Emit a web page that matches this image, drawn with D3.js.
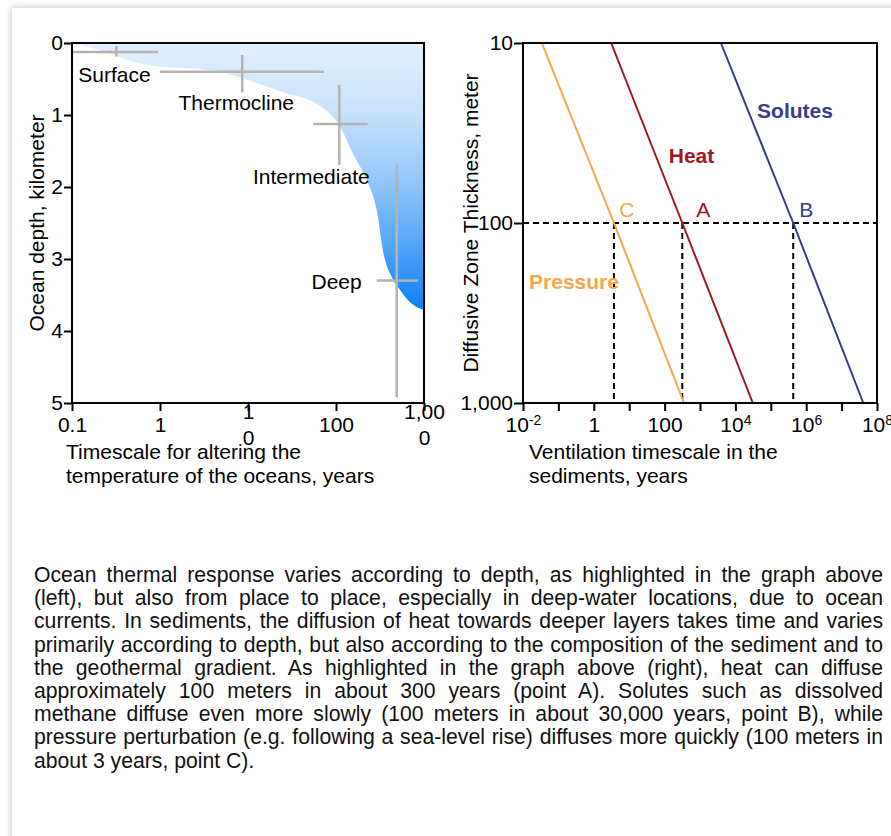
<!DOCTYPE html>
<html><head><meta charset="utf-8">
<script src="https://cdn.jsdelivr.net/npm/d3@7"></script>
<style>
html,body{margin:0;padding:0;background:#fff;width:891px;height:836px;overflow:hidden;font-family:"Liberation Sans",Arial,sans-serif;}
#card{position:absolute;left:12px;top:8px;width:940px;height:900px;background:#fff;box-shadow:0 0 7px rgba(0,0,0,0.28);}
#chart{position:absolute;left:0;top:0;}
#text{position:absolute;left:34px;top:563px;width:849px;font-size:21.2px;line-height:23.2px;text-align:justify;color:#111;}
</style></head><body>
<div id="card"></div>
<svg id="chart" width="891" height="540"></svg>
<div id="text">Ocean thermal response varies according to depth, as highlighted in the graph above (left), but also from place to place, especially in deep-water locations, due to ocean currents. In sediments, the diffusion of heat towards deeper layers takes time and varies primarily according to depth, but also according to the composition of the sediment and to the geothermal gradient. As highlighted in the graph above (right), heat can diffuse approximately 100 meters in about 300 years (point A). Solutes such as dissolved methane diffuse even more slowly (100 meters in about 30,000 years, point B), while pressure perturbation (e.g. following a sea-level rise) diffuses more quickly (100 meters in about 3 years, point C).</div>
<script>
// ---------- Left chart data ----------
const depthTicks = [0, 1, 2, 3, 4, 5];
const depthTickLabels = ["0", "1", "2", "3", "4", "5"];
const timeTicksLeft = [0.1, 1, 10, 100, 1000];
const timeTickLabelsLeft = ["0.1", "1", "1\n0", "100", "1,00\n0"];
const profileTime  = [0.1, 0.21, 0.49, 1.0, 2.0, 4.8, 11.4, 27.6, 55, 85, 111, 155, 222, 290, 346, 430, 535, 694, 1000];
const profileDepth = [0.0, 0.10, 0.26, 0.33, 0.35, 0.40, 0.54, 0.70, 0.815, 0.98, 1.16, 1.53, 1.90, 2.32, 2.92, 3.25, 3.43, 3.60, 3.71];
const layerNames   = ["Surface", "Thermocline", "Intermediate", "Deep"];
const layerTime    = [0.32, 8.6, 109, 490];
const layerTimeLo  = [0.1, 1, 55, 290];
const layerTimeHi  = [0.95, 73, 229, 852];
const layerDepth   = [0.125, 0.40, 1.125, 3.30];
const layerDepthLo = [0.04, 0.167, 0.583, 1.69];
const layerDepthHi = [0.19, 0.685, 1.694, 4.92];

// ---------- Right chart data ----------
const thicknessTicks = [10, 100, 1000];
const thicknessTickLabels = ["10", "100", "1,000"];
const ventTicks = [1e-2, 1e-1, 1, 10, 100, 1e3, 1e4, 1e5, 1e6, 1e7, 1e8];
const ventTickLabels = ["10^-2", "", "1", "", "100", "", "10^4", "", "10^6", "", "10^8"];
const seriesNames = ["Pressure", "Heat", "Solutes"];
const thickness = [10, 100, 1000];
const pressureTime = [0.034, 3.7, 353];
const heatTime = [3.1, 316, 31000];
const solutesTime = [3900, 4.3e5, 4.1e7];
const pointLabels = ["C", "A", "B"];

// ---------- Drawing ----------
const FONT = '"Liberation Sans", Arial, sans-serif';
const FS = 21;
const svg = d3.select("#chart").attr("font-family", FONT).attr("font-size", FS);
const defs = svg.append("defs");

function styleAxis(g) {
  g.attr("font-family", FONT).attr("font-size", FS);
  g.select(".domain").remove();
  g.selectAll(".tick line").attr("stroke", "#000").attr("stroke-width", 2);
  g.selectAll(".tick text").attr("fill", "#000");
}

// Left chart
const L = {x0: 72, x1: 424, y0: 43, y1: 403};
const xL = d3.scaleLog().domain([0.1, 1000]).range([L.x0, L.x1]);
const yL = d3.scaleLinear().domain([0, 5]).range([L.y0, L.y1]);

const grad = defs.append("linearGradient").attr("id", "ocean")
  .attr("gradientUnits", "userSpaceOnUse")
  .attr("x1", 0).attr("x2", 0).attr("y1", yL(0)).attr("y2", yL(3.71));
[[0, "#E2F0FD"], [0.25, "#C8E2FC"], [0.5, "#98C9FA"], [0.75, "#55A6F8"], [1, "#0A7FF8"]]
  .forEach(s => grad.append("stop").attr("offset", s[0]).attr("stop-color", s[1]));

const prof = profileTime.map((t, i) => [xL(t), yL(profileDepth[i])]);
const profLine = d3.line().curve(d3.curveMonotoneX);
svg.append("path")
  .attr("d", profLine(prof) + `L${xL(1000)},${yL(0)}Z`)
  .attr("fill", "url(#ocean)");

const crossColor = "#B5B3AC";
const crosses = svg.append("g").attr("stroke", crossColor).attr("stroke-width", 2.5);
layerNames.forEach((n, i) => {
  crosses.append("line")
    .attr("x1", xL(layerTimeLo[i])).attr("x2", xL(layerTimeHi[i]))
    .attr("y1", yL(layerDepth[i])).attr("y2", yL(layerDepth[i]));
  crosses.append("line")
    .attr("x1", xL(layerTime[i])).attr("x2", xL(layerTime[i]))
    .attr("y1", yL(layerDepthLo[i])).attr("y2", yL(layerDepthHi[i]));
});
// label layout (pixel offsets from each cross)
const labelLayout = [
  {anchor: "middle", ref: "c", dx: -2, dy: 23},
  {anchor: "middle", ref: "c", dx: -6, dy: 31},
  {anchor: "middle", ref: "c", dx: -28, dy: 53},
  {anchor: "end", ref: "lo", dx: -15, dy: 1}
];
layerNames.forEach((n, i) => {
  const lay = labelLayout[i];
  const bx = lay.ref === "c" ? xL(layerTime[i]) : xL(layerTimeLo[i]);
  svg.append("text").text(n)
    .attr("x", bx + lay.dx).attr("y", yL(layerDepth[i]) + lay.dy)
    .attr("dy", "0.35em").attr("text-anchor", lay.anchor).attr("fill", "#000");
});

svg.append("rect").attr("x", L.x0).attr("y", L.y0)
  .attr("width", L.x1 - L.x0).attr("height", L.y1 - L.y0)
  .attr("fill", "none").attr("stroke", "#000").attr("stroke-width", 2);

const gyL = svg.append("g").attr("transform", `translate(${L.x0},0)`)
  .call(d3.axisLeft(yL).tickValues(depthTicks).tickFormat((d, i) => depthTickLabels[i])
    .tickSize(8).tickSizeOuter(0).tickPadding(1));
styleAxis(gyL);

const gxL = svg.append("g").attr("transform", `translate(0,${L.y1})`)
  .call(d3.axisBottom(xL).tickValues(timeTicksLeft).tickFormat((d, i) => timeTickLabelsLeft[i])
    .tickSize(8).tickSizeOuter(0).tickPadding(6));
styleAxis(gxL);
gxL.selectAll(".tick text").each(function() {
  const t = d3.select(this);
  const parts = t.text().split("\n");
  if (parts.length > 1) {
    t.text(null).attr("dy", null);
    const lh = 26;
    const first = 0.71 * FS - lh / 2 * (parts.length - 1);
    parts.forEach((p, k) => {
      t.append("tspan").attr("x", 0)
        .attr("dy", k === 0 ? first : lh).text(p);
    });
  }
});

svg.append("text").attr("transform", `translate(37,${(L.y0 + L.y1) / 2}) rotate(-90)`)
  .attr("text-anchor", "middle").attr("dy", "0.35em").attr("fill", "#000")
  .text("Ocean depth, kilometer");
svg.append("text").attr("x", 66).attr("y", 452).attr("dy", "0.35em").attr("fill", "#000")
  .text("Timescale for altering the");
svg.append("text").attr("x", 66).attr("y", 476).attr("dy", "0.35em").attr("fill", "#000")
  .text("temperature of the oceans, years");

// Right chart
const R = {x0: 523, x1: 877, y0: 43, y1: 403};
const xR = d3.scaleLog().domain([1e-2, 1e8]).range([R.x0, R.x1]);
const yR = d3.scaleLog().domain([10, 1000]).range([R.y0, R.y1]);
const seriesTimes = [pressureTime, heatTime, solutesTime];
const seriesColors = ["#F9A547", "#A0171F", "#363D8E"];

const dash = svg.append("g").attr("stroke", "#000").attr("stroke-width", 2).attr("stroke-dasharray", "6,4");
dash.append("line").attr("x1", xR(1e-2)).attr("x2", xR(1e8)).attr("y1", yR(100)).attr("y2", yR(100));
seriesTimes.forEach(ts => {
  dash.append("line").attr("x1", xR(ts[1])).attr("x2", xR(ts[1]))
    .attr("y1", yR(100)).attr("y2", yR(1000));
});

const rLine = d3.line().x(d => xR(d[0])).y(d => yR(d[1]));
seriesTimes.forEach((ts, i) => {
  svg.append("path").attr("d", rLine(ts.map((t, k) => [t, thickness[k]])))
    .attr("fill", "none").attr("stroke", seriesColors[i]).attr("stroke-width", 2);
});

// point letters
const pointDx = [13, 21, 13];
seriesTimes.forEach((ts, i) => {
  svg.append("text").text(pointLabels[i])
    .attr("x", xR(ts[1]) + pointDx[i]).attr("y", yR(100) - 13)
    .attr("dy", "0.35em").attr("text-anchor", "middle").attr("fill", seriesColors[i]);
});
// series names (layout in pixels)
const nameLayout = [[574, 282], [691.5, 156], [795, 111]];
seriesNames.forEach((n, i) => {
  svg.append("text").text(n).attr("x", nameLayout[i][0]).attr("y", nameLayout[i][1])
    .attr("dy", "0.35em").attr("text-anchor", "middle").attr("font-weight", "bold")
    .attr("fill", seriesColors[i]);
});

svg.append("rect").attr("x", R.x0).attr("y", R.y0)
  .attr("width", R.x1 - R.x0).attr("height", R.y1 - R.y0)
  .attr("fill", "none").attr("stroke", "#000").attr("stroke-width", 2);

const gyR = svg.append("g").attr("transform", `translate(${R.x0},0)`)
  .call(d3.axisLeft(yR).tickValues(thicknessTicks).tickFormat((d, i) => thicknessTickLabels[i])
    .tickSize(9).tickSizeOuter(0).tickPadding(1));
styleAxis(gyR);

const gxR = svg.append("g").attr("transform", `translate(0,${R.y1})`)
  .call(d3.axisBottom(xR).tickValues(ventTicks).tickFormat((d, i) => ventTickLabels[i])
    .tickSize(8).tickSizeOuter(0).tickPadding(6));
styleAxis(gxR);
gxR.selectAll(".tick text").each(function() {
  const t = d3.select(this);
  const parts = t.text().split("^");
  if (parts.length > 1) {
    t.text(null);
    t.append("tspan").text(parts[0]);
    t.append("tspan").attr("font-size", 14).attr("dy", -7).text(parts[1]);
  }
});

svg.append("text").attr("transform", `translate(471,${(R.y0 + R.y1) / 2}) rotate(-90)`)
  .attr("text-anchor", "middle").attr("dy", "0.35em").attr("fill", "#000")
  .text("Diffusive Zone Thickness, meter");
svg.append("text").attr("x", 529).attr("y", 452).attr("dy", "0.35em").attr("fill", "#000")
  .text("Ventilation timescale in the");
svg.append("text").attr("x", 529).attr("y", 476).attr("dy", "0.35em").attr("fill", "#000")
  .text("sediments, years");
</script>
</body></html>
